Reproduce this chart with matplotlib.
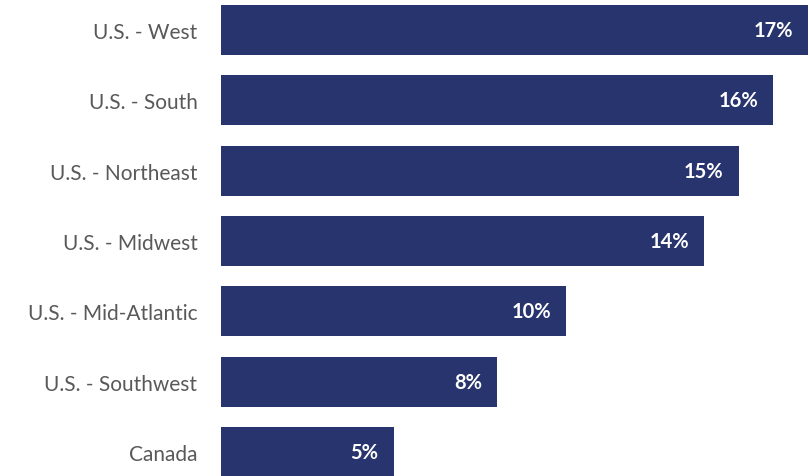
import matplotlib.pyplot as plt

regions = ["U.S. - West", "U.S. - South", "U.S. - Northeast", "U.S. - Midwest",
           "U.S. - Mid-Atlantic", "U.S. - Southwest", "Canada"]
shares = [17, 16, 15, 14, 10, 8, 5]

plt.rcParams["font.family"] = ["Lato", "DejaVu Sans"]

fig = plt.figure(figsize=(8.09, 4.77), dpi=100)
ax = fig.add_axes([221 / 809, 0, 588 / 809, 1])

y = list(range(len(regions)))
bars = ax.barh(y, shares, height=0.71, color="#27346e")

for b, v in zip(bars, shares):
    ax.annotate(f"{v}%", (b.get_width(), b.get_y() + b.get_height() / 2),
                xytext=(-11, 0), textcoords="offset points",
                ha="right", va="center", color="white",
                fontsize=14.5, fontweight="bold")

ax.set_yticks(y)
ax.set_yticklabels(regions, fontsize=15, color="#595959")
ax.tick_params(axis="y", length=0, pad=17)
ax.set_xticks([])
ax.set_xlim(0, 17.03)
ax.set_ylim(6.34, -0.44)
for s in ax.spines.values():
    s.set_visible(False)

fig.savefig("out.png", dpi=100)
